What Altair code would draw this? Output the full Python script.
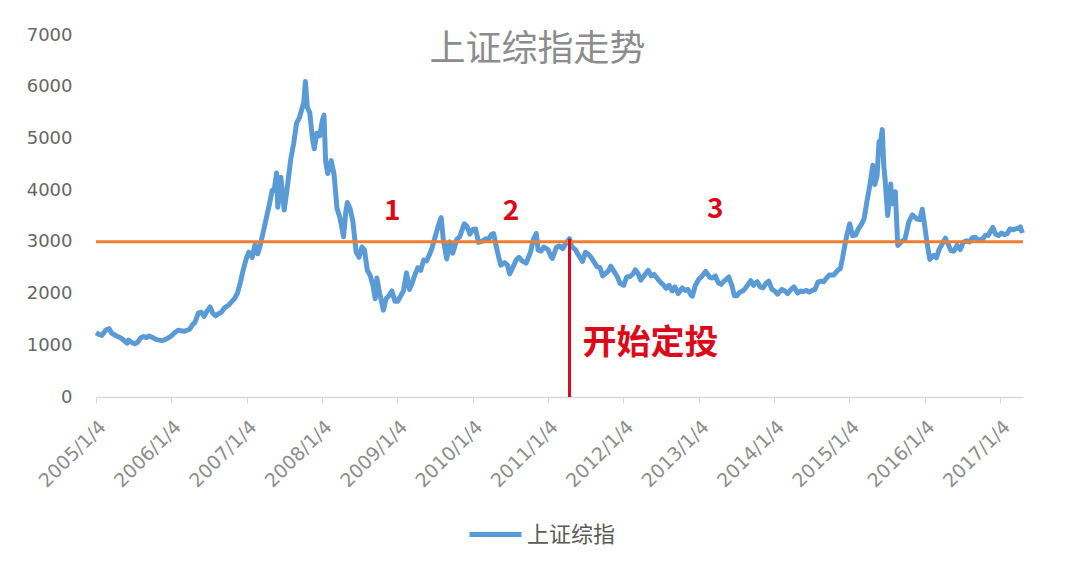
import altair as alt
import pandas as pd

TITLE = "上证综指走势"
SERIES = "上证综指"
Y_TICKS = [0, 1000, 2000, 3000, 4000, 5000, 6000, 7000]
X_TICK_YEARS = list(range(2005, 2018))  # labels read "YYYY/1/4"
LEVEL = 3000
START_DATE = "2011/04/18"
START_LABEL = "开始定投"

Y2005 = [("2005/01/04",1242),("2005/01/18",1210),("2005/02/01",1190),("2005/02/22",1300),("2005/03/09",1320),
         ("2005/03/22",1230),("2005/04/05",1200),("2005/04/19",1170),("2005/05/09",1130),("2005/05/23",1080),
         ("2005/06/03",1040),("2005/06/10",1100),("2005/06/24",1060),("2005/07/11",1030),("2005/07/25",1060),
         ("2005/08/08",1140),("2005/08/22",1170),("2005/09/05",1150),("2005/09/19",1180),("2005/10/10",1140),
         ("2005/10/24",1110),("2005/11/07",1100),("2005/11/21",1090),("2005/12/05",1110),("2005/12/19",1140)]
Y2006 = [("2006/01/04",1180),("2006/01/16",1230),("2006/02/06",1290),("2006/02/20",1280),("2006/03/06",1270),
         ("2006/03/20",1290),("2006/04/03",1310),("2006/04/17",1400),("2006/04/28",1440),("2006/05/15",1620),
         ("2006/05/29",1640),("2006/06/12",1560),("2006/06/26",1660),("2006/07/11",1740),("2006/07/24",1620),
         ("2006/08/07",1570),("2006/08/21",1610),("2006/09/04",1640),("2006/09/18",1720),("2006/10/09",1780),
         ("2006/10/23",1840),("2006/11/06",1900),("2006/11/20",2000),("2006/12/04",2200),("2006/12/18",2450)]
Y2007 = [("2007/01/04",2700),("2007/01/15",2800),("2007/01/31",2700),("2007/02/14",2950),("2007/02/27",2770),
         ("2007/03/12",2950),("2007/03/26",3200),("2007/04/09",3450),("2007/04/23",3700),("2007/05/08",4000),
         ("2007/05/18",4000),("2007/05/29",4330),("2007/06/04",3670),("2007/06/19",4250),("2007/07/05",3615),
         ("2007/07/20",4050),("2007/08/06",4600),("2007/08/20",4900),("2007/09/03",5300),("2007/09/17",5400),
         ("2007/10/08",5700),("2007/10/16",6100),("2007/10/25",5600),("2007/11/06",5500),("2007/11/19",5000),
         ("2007/11/28",4800),("2007/12/10",5100),("2007/12/24",5050)]
Y2008 = [("2008/01/07",5360),("2008/01/14",5450),("2008/01/22",4560),("2008/02/01",4320),("2008/02/18",4570),
         ("2008/03/03",4300),("2008/03/17",3650),("2008/03/31",3470),("2008/04/18",3100),("2008/04/28",3560),
         ("2008/05/06",3760),("2008/05/19",3650),("2008/06/02",3400),("2008/06/18",2800),("2008/07/02",2700),
         ("2008/07/16",2900),("2008/07/28",2850),("2008/08/11",2450),("2008/08/25",2350),("2008/09/08",2150),
         ("2008/09/18",1900),("2008/09/26",2300),("2008/10/10",2000),("2008/10/28",1680),("2008/11/10",1900),
         ("2008/11/24",1960),("2008/12/08",2050),("2008/12/23",1850)]
Y2009 = [("2009/01/05",1850),("2009/01/19",1950),("2009/02/02",2050),("2009/02/17",2400),("2009/03/03",2080),
         ("2009/03/16",2200),("2009/03/30",2370),("2009/04/13",2500),("2009/04/27",2450),("2009/05/11",2650),
         ("2009/05/25",2630),("2009/06/08",2750),("2009/06/22",2900),("2009/07/06",3100),("2009/07/20",3300),
         ("2009/08/04",3470),("2009/08/14",3050),("2009/08/31",2670),("2009/09/14",3000),("2009/09/29",2780),
         ("2009/10/19",3050),("2009/11/02",3100),("2009/11/24",3350),("2009/12/07",3300),("2009/12/21",3150)]
Y2010 = [("2010/01/04",3240),("2010/01/18",3250),("2010/02/01",2990),("2010/02/22",3020),("2010/03/08",3060),
         ("2010/03/22",3050),("2010/04/06",3150),("2010/04/15",3160),("2010/04/26",2950),("2010/05/10",2700),
         ("2010/05/20",2550),("2010/06/07",2600),("2010/06/21",2550),("2010/07/02",2380),("2010/07/19",2520),
         ("2010/08/02",2650),("2010/08/16",2700),("2010/09/01",2630),("2010/09/20",2590),("2010/10/11",2800),
         ("2010/10/25",3050),("2010/11/08",3160),("2010/11/17",2840),("2010/12/01",2820),("2010/12/15",2900)]
Y2011 = [("2011/01/04",2850),("2011/01/18",2720),("2011/01/25",2680),("2011/02/14",2900),("2011/03/01",2920),
         ("2011/03/16",2870),("2011/04/01",2970),("2011/04/18",3060),("2011/04/28",2910),("2011/05/16",2850),
         ("2011/06/01",2740),("2011/06/20",2620),("2011/07/04",2800),("2011/07/18",2760),("2011/08/01",2700),
         ("2011/08/15",2610),("2011/08/29",2520),("2011/09/13",2500),("2011/09/26",2340),("2011/10/24",2440),
         ("2011/11/04",2530),("2011/11/21",2420),("2011/12/05",2330),("2011/12/19",2200)]
Y2012 = [("2012/01/06",2160),("2012/01/20",2320),("2012/02/06",2330),("2012/02/20",2380),("2012/03/02",2460),
         ("2012/03/15",2390),("2012/03/28",2260),("2012/04/16",2360),("2012/05/04",2450),("2012/05/18",2340),
         ("2012/06/01",2370),("2012/06/15",2300),("2012/06/29",2230),("2012/07/16",2170),("2012/07/30",2100),
         ("2012/08/13",2160),("2012/08/27",2050),("2012/09/10",2130),("2012/09/26",2000),("2012/10/15",2110),
         ("2012/10/29",2060),("2012/11/12",2080),("2012/11/27",1970),("2012/12/04",1950),("2012/12/17",2150)]
Y2013 = [("2013/01/04",2280),("2013/01/18",2330),("2013/02/06",2430),("2013/02/25",2320),("2013/03/11",2300),
         ("2013/03/25",2340),("2013/04/08",2210),("2013/04/22",2180),("2013/05/06",2240),("2013/05/29",2320),
         ("2013/06/13",2160),("2013/06/25",1960),("2013/07/08",1960),("2013/07/22",2030),("2013/08/05",2050),
         ("2013/08/19",2110),("2013/09/12",2250),("2013/09/26",2160),("2013/10/14",2230),("2013/10/28",2130),
         ("2013/11/11",2110),("2013/11/26",2200),("2013/12/09",2240),("2013/12/23",2090)]
Y2014 = [("2014/01/06",2050),("2014/01/20",1990),("2014/02/10",2080),("2014/02/24",2050),("2014/03/10",2000),
         ("2014/03/24",2070),("2014/04/10",2130),("2014/04/28",2010),("2014/05/12",2050),("2014/05/26",2040),
         ("2014/06/09",2060),("2014/06/23",2030),("2014/07/07",2060),("2014/07/21",2080),("2014/08/04",2220),
         ("2014/08/18",2240),("2014/09/01",2230),("2014/09/15",2300),("2014/09/29",2360),("2014/10/20",2360),
         ("2014/11/03",2430),("2014/11/21",2490),("2014/12/01",2680),("2014/12/09",2860),("2014/12/22",3130)]
Y2015 = [("2015/01/05",3350),("2015/01/19",3120),("2015/02/02",3130),("2015/02/16",3250),("2015/03/02",3330),
         ("2015/03/16",3450),("2015/03/30",3790),("2015/04/13",4100),("2015/04/27",4480),("2015/05/07",4110),
         ("2015/05/18",4280),("2015/05/27",4940),("2015/06/04",4950),("2015/06/12",5170),("2015/06/19",4480),
         ("2015/06/26",4190),("2015/07/08",3510),("2015/07/23",4120),("2015/07/27",3730),("2015/08/14",3970),
         ("2015/08/26",2930),("2015/09/15",3010),("2015/09/30",3050),("2015/10/19",3390),("2015/11/05",3520),
         ("2015/11/27",3440),("2015/12/11",3430),("2015/12/23",3630)]
Y2016 = [("2016/01/04",3300),("2016/01/14",3000),("2016/01/28",2660),("2016/02/15",2740),("2016/02/29",2690),
         ("2016/03/14",2860),("2016/03/28",2960),("2016/04/13",3070),("2016/04/27",2950),("2016/05/10",2830),
         ("2016/05/24",2820),("2016/06/08",2930),("2016/06/24",2850),("2016/07/08",2990),("2016/07/25",3020),
         ("2016/08/08",3000),("2016/08/22",3080),("2016/09/05",3090),("2016/09/19",3030),("2016/10/10",3050),
         ("2016/10/24",3130),("2016/11/07",3130),("2016/11/29",3280),("2016/12/12",3150),("2016/12/26",3120)]
Y2017 = [("2017/01/09",3170),("2017/01/23",3140),("2017/02/06",3160),("2017/02/20",3250),("2017/03/06",3230),
         ("2017/03/20",3250),("2017/04/05",3270),("2017/04/11",3290),("2017/04/21",3170)]

PHASE_LABELS = ["1", "2", "3"]
PHASE_DATES = ["2008/12/10", "2010/07/09", "2013/03/24"]
PHASE_VALUES = [3580, 3580, 3620]
START_LABEL_DATE = "2011/06/20"
START_LABEL_VALUE = 1030

rows = []
for yr in (Y2005, Y2006, Y2007, Y2008, Y2009, Y2010, Y2011, Y2012, Y2013, Y2014, Y2015, Y2016, Y2017):
    rows.extend(yr)
df = pd.DataFrame(rows, columns=["date", "close"])
df["series"] = SERIES

start_close = dict(rows)[START_DATE]

RED = "#DA0A1A"
CJK = "Noto Sans CJK SC"
NUM = "DejaVu Sans"

x_enc = alt.X(
    "date:T",
    scale=alt.Scale(domain=[alt.DateTime(year=2005, month=1, date=4),
                            alt.DateTime(year=2017, month=4, date=24)]),
    axis=alt.Axis(
        values=[alt.DateTime(year=y, month=1, date=4) for y in X_TICK_YEARS],
        format="%Y/%-m/%-d", labelAngle=315, labelAlign="right", labelBaseline="top",
        labelFontSize=19, labelColor="#8c8c8c", labelFont=NUM,
        domainColor="#d9d9d9", domainWidth=1.5, tickColor="#d9d9d9", tickSize=6,
        grid=False, title=None, labelPadding=14, labelOverlap=False, labelFlush=False,
    ),
)
y_enc = alt.Y(
    "close:Q",
    scale=alt.Scale(domain=[0, 7000], nice=False),
    axis=alt.Axis(values=Y_TICKS, format="d", domain=False, ticks=False, grid=False,
                  labelFontSize=18, labelColor="#666666", labelFont=NUM,
                  labelPadding=24, title=None),
)

line = alt.Chart(df).mark_line(strokeWidth=5, strokeJoin="round").encode(
    x=x_enc,
    y=y_enc,
    color=alt.Color("series:N", scale=alt.Scale(domain=[SERIES], range=["#5B9BD5"]),
                    legend=alt.Legend(orient="none", legendX=371, legendY=471, title=None,
                                      symbolType="stroke", symbolStrokeWidth=5, symbolSize=2704,
                                      labelFontSize=22, labelColor="#595959", labelFont=CJK,
                                      labelOffset=3, padding=0)),
)

level = alt.Chart(pd.DataFrame({"level": [LEVEL]})).mark_rule(
    color="#ED7D31", strokeWidth=3).encode(y="level:Q")

start_rule = alt.Chart(pd.DataFrame({"date": [START_DATE], "lo": [0], "hi": [start_close]})).mark_rule(
    color=RED, strokeWidth=3).encode(x="date:T", y="lo:Q", y2="hi:Q")

phases = alt.Chart(pd.DataFrame({"date": PHASE_DATES, "v": PHASE_VALUES, "t": PHASE_LABELS})).mark_text(
    font=CJK, fontSize=28, fontWeight="bold", color=RED, baseline="middle").encode(
    x="date:T", y="v:Q", text="t:N")

start_text = alt.Chart(pd.DataFrame({"date": [START_LABEL_DATE], "v": [START_LABEL_VALUE], "t": [START_LABEL]})).mark_text(
    font=CJK, fontSize=34, fontWeight="bold", color=RED, align="left", baseline="middle").encode(
    x="date:T", y="v:Q", text="t:N")

chart = alt.layer(line, level, start_rule, phases, start_text).properties(
    width=927, height=362,
    autosize=alt.AutoSizeParams(type="none"),
    padding={"left": 88, "top": 27, "right": 49, "bottom": 177},
    title=alt.TitleParams(TITLE, fontSize=36, color="#8c8c8c", font=CJK, fontWeight="normal",
                          anchor="middle", dx=-22, dy=60, offset=0, baseline="middle"),
    background="white",
).configure_view(stroke=None)

chart.save("out.html", embed_options={"renderer": "svg", "actions": False})
